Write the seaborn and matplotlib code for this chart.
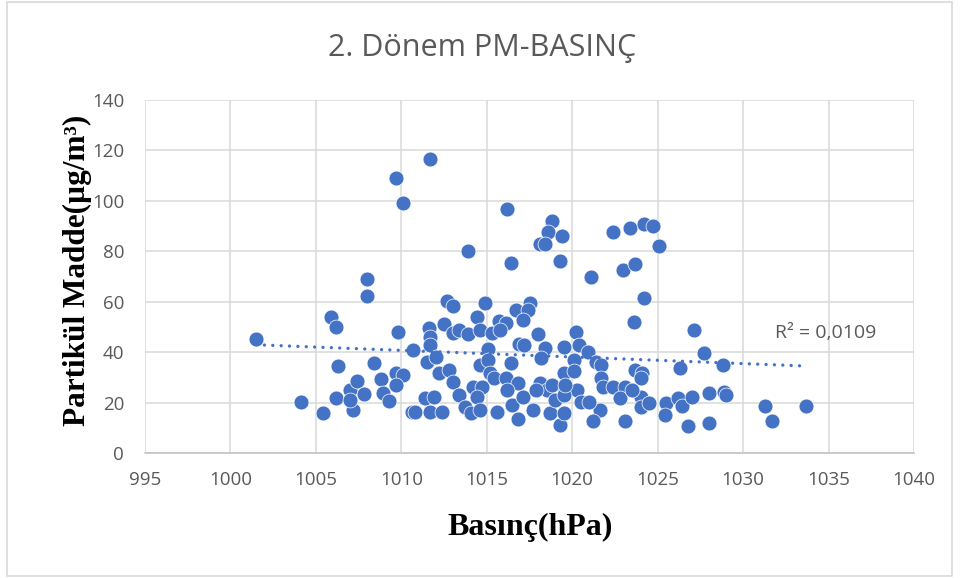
import matplotlib
matplotlib.use("Agg")
import matplotlib.pyplot as plt
from matplotlib.patches import Rectangle
import seaborn as sns
import pandas as pd

# Basınç (hPa) ve PM değerleri
basinc = [
    1011.7, 1009.7, 1010.1, 1013.9, 1008.0, 1008.0, 1005.9, 1006.2, 1009.8, 1001.5,
    1006.3, 1008.4, 1004.1, 1005.4, 1006.2, 1007.0, 1007.4, 1007.8, 1007.2, 1007.0,
    1008.8, 1008.9, 1009.3, 1009.7, 1010.1, 1009.7, 1010.7, 1010.6, 1016.2, 1018.8,
    1018.6, 1019.4, 1018.1, 1018.4, 1016.4, 1019.3, 1021.1, 1022.4, 1023.4, 1024.2,
    1024.7, 1025.1, 1023.0, 1023.7, 1024.2, 1011.6, 1011.7, 1011.7, 1011.5, 1012.0,
    1012.2, 1012.8, 1013.0, 1011.4, 1011.9, 1010.8, 1011.7, 1012.4, 1012.7, 1013.0,
    1012.5, 1013.0, 1013.4, 1013.9, 1014.4, 1014.9, 1014.6, 1015.3, 1015.1, 1015.7,
    1016.1, 1015.8, 1016.7, 1017.5, 1017.4, 1017.1, 1016.9, 1017.2, 1018.0, 1018.4,
    1018.2, 1019.5, 1020.2, 1014.6, 1015.1, 1016.4, 1015.2, 1015.4, 1016.1, 1016.8,
    1016.2, 1013.4, 1014.2, 1014.7, 1014.4, 1013.7, 1014.1, 1014.6, 1015.6, 1016.5,
    1016.8, 1017.1, 1017.7, 1018.1, 1018.5, 1018.8, 1018.7, 1019.3, 1019.5, 1019.5,
    1019.6, 1027.1, 1027.7, 1028.8, 1026.3, 1023.6, 1020.4, 1020.9, 1020.1, 1020.1,
    1021.4, 1021.7, 1021.7, 1021.8, 1022.4, 1023.1, 1022.8, 1023.7, 1024.1, 1024.0,
    1024.0, 1024.0, 1024.5, 1023.5, 1021.6, 1021.2, 1023.1, 1020.3, 1020.5, 1021.0,
    1025.5, 1025.4, 1026.2, 1026.4, 1027.0, 1028.0, 1028.0, 1026.8, 1028.9, 1029.0,
    1031.3, 1031.7, 1033.7, 1017.9, 1019.0, 1019.5, 1019.6,
]
pm = [
    116.5, 109.1, 99.2, 80.0, 69.1, 62.4, 54.1, 50.0, 47.9, 45.2,
    34.6, 35.9, 20.3, 16.0, 21.9, 25.1, 28.6, 23.5, 17.2, 21.1,
    29.3, 23.8, 20.8, 31.9, 31.0, 27.1, 40.9, 16.2, 96.7, 92.2,
    87.7, 86.2, 82.8, 83.1, 75.5, 76.2, 70.0, 87.6, 89.1, 90.8,
    89.9, 82.1, 72.5, 74.9, 61.5, 49.5, 46.2, 42.9, 36.3, 38.0,
    31.7, 33.0, 28.4, 21.8, 22.4, 16.5, 16.2, 16.2, 60.5, 58.4,
    51.2, 47.8, 48.9, 47.3, 54.1, 59.4, 48.9, 47.8, 41.2, 52.5,
    51.7, 48.9, 56.8, 59.4, 56.8, 52.8, 43.2, 43.0, 47.1, 41.8,
    37.6, 42.0, 47.9, 35.0, 37.0, 35.7, 31.7, 29.7, 29.7, 27.7,
    25.1, 23.1, 26.4, 26.4, 22.4, 18.5, 15.8, 17.2, 16.5, 19.1,
    13.5, 22.4, 17.2, 27.7, 25.1, 27.1, 15.8, 11.2, 15.8, 31.7,
    25.1, 48.9, 39.6, 35.0, 33.7, 52.1, 42.9, 40.3, 37.0, 32.7,
    36.3, 35.0, 29.7, 26.4, 26.4, 26.4, 21.8, 33.0, 31.7, 29.7,
    22.4, 18.5, 19.8, 25.1, 17.2, 12.9, 12.7, 25.1, 20.4, 20.4,
    19.8, 15.2, 21.8, 18.7, 22.4, 23.8, 12.1, 10.8, 24.4, 23.3,
    18.7, 12.9, 18.7, 25.1, 21.1, 23.1, 27.1,
]

x_ticks = list(range(995, 1041, 5))
y_ticks = list(range(0, 141, 20))
r2_text = "R² = 0,0109"

df = pd.DataFrame({"Basınç": basinc, "PM": pm})

sns.set_style("white")
plt.rcParams["font.family"] = ["Open Sans", "DejaVu Sans"]

fig = plt.figure(figsize=(9.61, 5.78), dpi=100)
ax = fig.add_axes([145 / 961, 1 - 453.3 / 578, 769 / 961, 353.3 / 578])

mavi = "#4472C4"
sns.regplot(
    data=df, x="Basınç", y="PM", ax=ax, ci=None,
    scatter_kws={"s": 115, "color": mavi, "edgecolor": "white",
                 "linewidths": 0.5, "alpha": 1, "zorder": 3},
    line_kws={"color": mavi, "lw": 2.4, "linestyle": (0, (0.01, 2.5)),
              "dash_capstyle": "round", "zorder": 4},
)

ax.set_xlim(995, 1040)
ax.set_ylim(0, 140)
ax.set_xticks(x_ticks)
ax.set_yticks(y_ticks)
ax.grid(True, color="#D9D9D9", lw=1.1)
ax.set_axisbelow(True)
for s in ["top", "right", "left"]:
    ax.spines[s].set_visible(False)
ax.spines["bottom"].set_color("#BFBFBF")
ax.spines["bottom"].set_linewidth(1.1)
ax.tick_params(axis="both", length=0, labelsize=13.5, labelcolor="#595959")
ax.tick_params(axis="x", pad=13)
ax.tick_params(axis="y", pad=15)

ax.set_xlabel("Basınç(hPa)", family="Liberation Serif", fontweight="bold",
              fontsize=23, color="black")
ax.set_ylabel("Partikül Madde(µg/m³)", family="Liberation Serif",
              fontweight="bold", fontsize=22.5, color="black")
ax.xaxis.set_label_coords(0.5007, -0.2086)
ax.xaxis.label.set_va("center")
ax.yaxis.set_label_coords(-0.088, 0.519)
ax.yaxis.label.set_va("center")

ax.text(1034.8, 47.7, r2_text, ha="center", va="center", fontsize=14,
        color="#595959")

fig.text(482 / 961, 1 - 48 / 578, "2. Dönem PM-BASINÇ", ha="center",
         va="center", fontsize=22, color="#595959")

fig.patches.append(Rectangle((7 / 961, 2 / 578), 945 / 961, 574 / 578,
                             transform=fig.transFigure, fill=False,
                             edgecolor="#D9D9D9", lw=1.2))

fig.savefig("out.png", dpi=100, facecolor="white")
